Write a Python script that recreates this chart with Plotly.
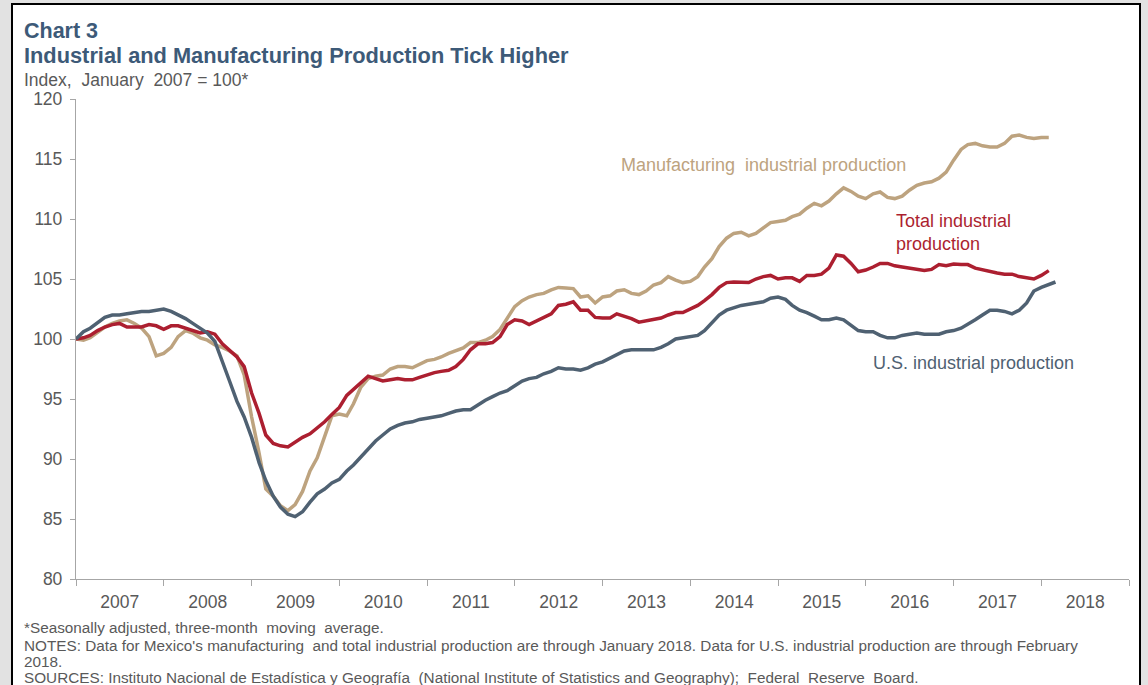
import plotly.graph_objects as go
import pandas as pd

# ---------------- data (monthly, index Jan 2007 = 100) ----------------
mex_start = "2007-01-01"
us_start = "2007-01-01"

manufacturing = [
    100.0, 99.9, 100.1, 100.6, 101.0, 101.3, 101.5, 101.6, 101.3, 100.9, 100.2, 98.6,
    98.8, 99.3, 100.2, 100.7, 100.5, 100.1, 99.9, 99.5, 99.3, 99.0, 98.6, 97.0,
    93.5, 90.5, 87.5, 86.9, 86.1, 85.7, 86.2, 87.3, 89.0, 90.1, 91.8, 93.6,
    93.75, 93.6, 94.6, 96.0, 96.7, 96.9, 97.0, 97.5, 97.7, 97.7, 97.6, 97.9,
    98.2, 98.3, 98.5, 98.8, 99.0, 99.25, 99.7, 99.7, 99.9, 100.2, 100.8, 101.8,
    102.7, 103.2, 103.5, 103.7, 103.8, 104.1, 104.3, 104.25, 104.2, 103.5, 103.6, 103.0,
    103.5, 103.6, 104.0, 104.1, 103.8, 103.7, 104.0, 104.5, 104.7, 105.2, 104.9, 104.7,
    104.8, 105.2, 106.0, 106.7, 107.7, 108.4, 108.8, 108.9, 108.6, 108.8, 109.3, 109.7,
    109.8, 109.9, 110.2, 110.4, 110.9, 111.3, 111.1, 111.5, 112.1, 112.6, 112.3, 111.9,
    111.7, 112.1, 112.25, 111.8, 111.7, 111.9, 112.4, 112.8, 113.0, 113.1, 113.4, 113.9,
    114.9, 115.8, 116.2, 116.3, 116.1, 116.0, 116.0, 116.3, 116.9, 117.0, 116.8, 116.7,
    116.8, 116.8,
]

total_mx = [
    100.0, 100.1, 100.3, 100.7, 101.0, 101.2, 101.3, 101.0, 101.0, 101.0, 101.2, 101.1,
    100.8, 101.1, 101.1, 100.9, 100.7, 100.5, 100.6, 100.4, 99.6, 99.1, 98.5, 97.7,
    95.5, 93.8, 92.0, 91.3, 91.1, 91.0, 91.4, 91.8, 92.1, 92.6, 93.1, 93.7,
    94.3, 95.3, 95.8, 96.4, 96.9, 96.7, 96.5, 96.6, 96.7, 96.6, 96.6, 96.8,
    97.0, 97.2, 97.3, 97.4, 97.7, 98.3, 99.1, 99.6, 99.6, 99.7, 100.2, 101.2,
    101.6, 101.5, 101.2, 101.5, 101.8, 102.1, 102.8, 102.9, 103.1, 102.4, 102.4, 101.8,
    101.75, 101.75, 102.1, 101.9, 101.7, 101.4, 101.5, 101.6, 101.75, 102.0, 102.2, 102.2,
    102.5, 102.8, 103.2, 103.7, 104.3, 104.7, 104.75, 104.7, 104.7, 105.0, 105.2, 105.3,
    105.0, 105.1, 105.1, 104.8, 105.3, 105.3, 105.4, 105.9, 107.0, 106.9, 106.3, 105.6,
    105.75, 106.0, 106.3, 106.3, 106.1, 106.0, 105.9, 105.8, 105.7, 105.8, 106.2, 106.1,
    106.25, 106.2, 106.2, 105.9, 105.75, 105.6, 105.5, 105.4, 105.4, 105.2, 105.1, 105.0,
    105.3, 105.7,
]

us_ip = [
    100.0, 100.6, 100.9, 101.4, 101.8, 102.0, 102.0, 102.1, 102.2, 102.3, 102.3, 102.4,
    102.5, 102.3, 102.0, 101.7, 101.3, 100.9, 100.5, 99.8, 98.2, 96.5, 94.8, 93.5,
    91.8, 89.7, 88.2, 86.9, 86.0, 85.4, 85.2, 85.6, 86.4, 87.1, 87.5, 88.0,
    88.3, 89.0, 89.5, 90.2, 90.8, 91.5, 92.0, 92.5, 92.8, 93.0, 93.1, 93.3,
    93.4, 93.5, 93.6, 93.8, 94.0, 94.1, 94.1, 94.5, 94.9, 95.2, 95.5, 95.7,
    96.1, 96.5, 96.7, 96.8, 97.1, 97.3, 97.6, 97.5, 97.5, 97.4, 97.6, 97.9,
    98.1, 98.4, 98.7, 99.0, 99.1, 99.1, 99.1, 99.1, 99.3, 99.6, 100.0, 100.1,
    100.2, 100.3, 100.7, 101.4, 102.0, 102.4, 102.6, 102.8, 102.9, 103.0, 103.1, 103.4,
    103.5, 103.3, 102.8, 102.4, 102.2, 101.9, 101.6, 101.6, 101.75, 101.6, 101.1, 100.7,
    100.6, 100.6, 100.3, 100.1, 100.1, 100.3, 100.4, 100.5, 100.4, 100.4, 100.4, 100.6,
    100.7, 100.9, 101.2, 101.6, 102.0, 102.4, 102.4, 102.3, 102.1, 102.4, 103.0, 104.0,
    104.3, 104.5, 104.75,
]

y_ticks = [80, 85, 90, 95, 100, 105, 110, 115, 120]

mex_dates = pd.date_range(mex_start, periods=len(manufacturing), freq="MS")
us_dates = pd.date_range(us_start, periods=len(us_ip), freq="MS")

# ---------------- styling ----------------
W, H = 1148, 685
L, R, T, B = 76, 1129, 99, 579
C_TAN = "#BDA37F"
C_RED = "#AC1F30"
C_US = "#4F6172"
C_TITLE = "#3D5A78"
C_TEXT = "#595959"
FONT = "Liberation Sans, Arial, sans-serif"


def px(x):
    return (x - L) / (R - L)


def py(y):
    return (B - y) / (B - T)


fig = go.Figure()
fig.add_trace(go.Scatter(x=mex_dates, y=manufacturing, mode="lines",
                         line=dict(color=C_TAN, width=3.5), name="Manufacturing industrial production"))
fig.add_trace(go.Scatter(x=mex_dates, y=total_mx, mode="lines",
                         line=dict(color=C_RED, width=3.5), name="Total industrial production"))
fig.add_trace(go.Scatter(x=us_dates, y=us_ip, mode="lines",
                         line=dict(color=C_US, width=3.5), name="U.S. industrial production"))

shapes = [
    dict(type="rect", xref="paper", yref="paper", layer="below",
         x0=px(12), x1=px(1140), y0=py(760), y1=py(4),
         fillcolor="white", line=dict(color="black", width=2)),
]

ann = []


def text(s, x, y, size, color, bold=False, xanchor="left", align="left"):
    if bold:
        s = "<b>" + s + "</b>"
    ann.append(dict(text=s, x=px(x), y=py(y), xref="paper", yref="paper",
                    xanchor=xanchor, yanchor="middle", align=align, showarrow=False,
                    font=dict(family=FONT, size=size, color=color)))


text("Chart 3", 22, 31, 21.5, C_TITLE, bold=True)
text("Industrial and Manufacturing Production Tick Higher", 22, 55, 21.8, C_TITLE, bold=True)
text("Index,  January  2007 = 100*", 22, 80, 17.5, C_TEXT)
text("Manufacturing  industrial production", 619, 165, 18, C_TAN)
text("Total industrial<br>production", 894, 232, 18, C_RED)
text("U.S. industrial production", 871, 363, 18, C_US)
FS = 15.3
text("*Seasonally adjusted, three-month  moving  average.", 22, 627, FS, C_TEXT)
text("NOTES: Data for Mexico's manufacturing  and total industrial production are through January 2018. "
     "Data for U.S. industrial production are through February", 22, 645, FS, C_TEXT)
text("2018.", 22, 661, FS, C_TEXT)
text("SOURCES: Instituto Nacional de Estadística y Geografía  (National Institute of Statistics and Geography);  "
     "Federal  Reserve  Board.", 22, 677, FS, C_TEXT)

fig.update_layout(
    width=W, height=H,
    margin=dict(l=L, r=W - R, t=T, b=H - B, pad=0),
    paper_bgcolor="#E2E2E2",
    plot_bgcolor="white",
    showlegend=False,
    shapes=shapes,
    annotations=ann,
    font=dict(family=FONT, color=C_TEXT, size=17),
    xaxis=dict(
        type="date",
        range=["2007-01-01", "2019-01-01"],
        dtick="M12", tick0="2007-01-01",
        tickformat="%Y", ticklabelmode="period",
        ticks="outside", ticklen=6, tickcolor="#A6A6A6", tickwidth=1.3,
        showline=True, linecolor="#A6A6A6", linewidth=1.3,
        showgrid=False, zeroline=False,
        tickfont=dict(family=FONT, size=17.5, color=C_TEXT),
        ticklabelstandoff=1,
    ),
    yaxis=dict(
        range=[80, 120], tickvals=y_ticks,
        ticks="outside", ticklen=5, tickcolor="#A6A6A6", tickwidth=1.3,
        showline=True, linecolor="#A6A6A6", linewidth=1.3,
        showgrid=False, zeroline=False,
        tickfont=dict(family=FONT, size=17.5, color=C_TEXT),
        ticklabelstandoff=4,
    ),
)

fig.write_html(
    "out.html",
    config={"displayModeBar": False},
    post_script="document.body.style.margin='0';document.body.style.padding='0';"
                "document.body.style.overflow='hidden';",
)
